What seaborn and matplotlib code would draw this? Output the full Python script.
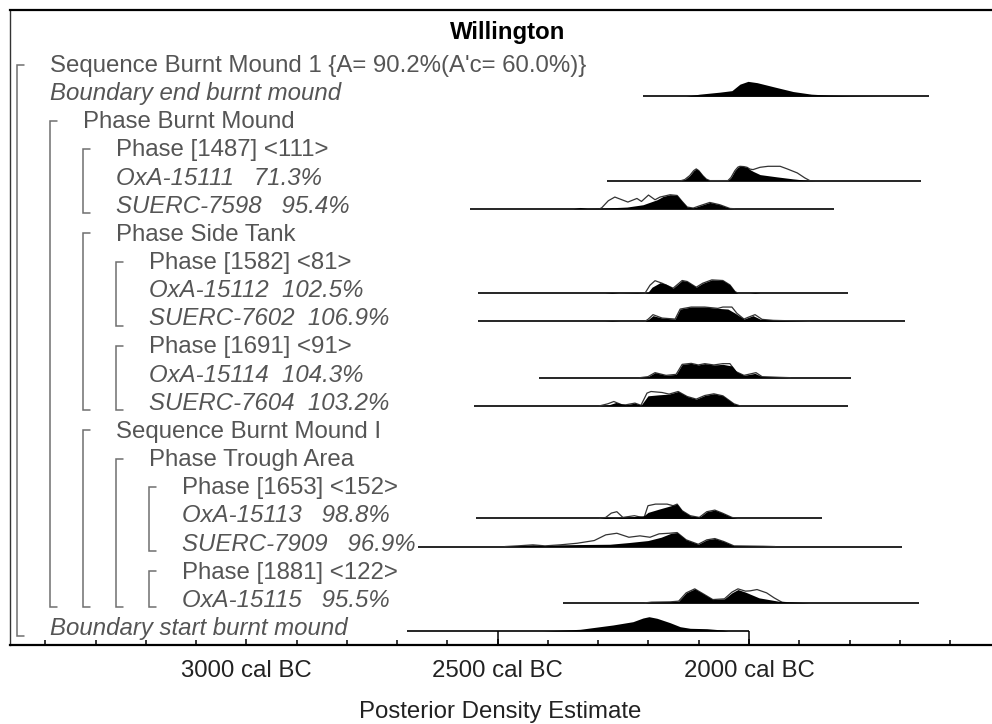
import matplotlib
matplotlib.use("Agg")
import matplotlib.pyplot as plt
import matplotlib.transforms as mtransforms
import seaborn as sns

sns.set_theme(style="white")
plt.rcParams["font.family"] = ["Liberation Sans", "DejaVu Sans"]

# ---------------------------------------------------------------- text
title = "Willington"
x_label = "Posterior Density Estimate"
tick_years = [-3000, -2500, -2000]
tick_labels = ["3000 cal BC", "2500 cal BC", "2000 cal BC"]
minor_years = [-3400, -3300, -3200, -3100, -2900, -2800, -2700, -2600,
               -2400, -2300, -2200, -2100, -1900, -1800, -1700, -1600]

# ---------------------------------------------------------------- model rows
row_labels = [
    "Sequence Burnt Mound 1 {A= 90.2%(A'c= 60.0%)}",
    "Boundary end burnt mound",
    "Phase Burnt Mound",
    "Phase [1487] <111>",
    "OxA-15111   71.3%",
    "SUERC-7598   95.4%",
    "Phase Side Tank",
    "Phase [1582] <81>",
    "OxA-15112  102.5%",
    "SUERC-7602  106.9%",
    "Phase [1691] <91>",
    "OxA-15114  104.3%",
    "SUERC-7604  103.2%",
    "Sequence Burnt Mound I",
    "Phase Trough Area",
    "Phase [1653] <152>",
    "OxA-15113   98.8%",
    "SUERC-7909   96.9%",
    "Phase [1881] <122>",
    "OxA-15115   95.5%",
    "Boundary start burnt mound",
]
row_italic = [False, True, False, False, True, True, False, False, True, True,
              False, True, True, False, False, False, True, True, False, True, True]
row_level = [0, 0, 1, 2, 2, 2, 2, 3, 3, 3, 3, 3, 3, 2, 3, 4, 4, 4, 4, 4, 0]
# (label row, last row, nesting level)
groups = [(0, 20, 0), (2, 19, 1), (3, 5, 2), (6, 12, 2), (7, 9, 3),
          (10, 12, 3), (13, 19, 2), (14, 19, 3), (15, 17, 4), (18, 19, 4)]

# ---------------------------------------------------------------- distributions
# years AD (negative = BC); relative probability heights
be_range = [-2211, -1642]
be_t = [-2125, -2098, -2058, -2034, -2018, -2002, -1984, -1948, -1912, -1876, -1841, -1799, -1739]
be_p = [0, 2, 4, 5.5, 12, 14.8, 13.5, 9, 4.6, 2, 1, 0.4, 0]

ox111_range = [-2283, -1658]
ox111_t = [-2135, -2128, -2118, -2110, -2105, -2100, -2092, -2085, -2078, -2042, -2036,
           -2028, -2022, -2018, -2010, -2004, -1998, -1992, -1978, -1944, -1912, -1885, -1869]
ox111_p = [0, 1, 5, 10, 11.7, 10, 5, 1.5, 0, 0, 3, 10, 13.5, 14.3, 14, 13.3, 11, 9.3, 6,
           3.7, 1.7, 0.3, 0]
ox111_lt = [-2135, -2128, -2118, -2110, -2105, -2100, -2092, -2085, -2078, -2042, -2036,
            -2028, -2022, -2018, -2010, -2004, -1998, -1992, -1978, -1962, -1938, -1924,
            -1904, -1889, -1879]
ox111_lp = [0, 1, 5, 10, 11.7, 10, 5, 1.5, 0, 0, 3, 10, 13.5, 14.3, 14, 13.3, 11.5, 11,
            13.3, 14.3, 14.3, 11.7, 7.7, 2.7, 0]

su598_range = [-2556, -1831]
su598_t = [-2350, -2336, -2322, -2297, -2243, -2211, -2183, -2171, -2157, -2143, -2133,
           -2123, -2111, -2098, -2078, -2058, -2038, -2028]
su598_p = [0, 1.3, 0.3, 0.5, 1.7, 4, 9, 12.3, 14, 13.3, 7.3, 1.7, 0.7, 3, 6.3, 4, 0.3, 0]
su598_lt = [-2297, -2293, -2280, -2267, -2241, -2223, -2214, -2200, -2187, -2177, -2157,
            -2143, -2133, -2123, -2111, -2098, -2078, -2058, -2038, -2028]
su598_lp = [0, 1, 8, 11.7, 6.7, 10.3, 7.3, 13.7, 9, 11.7, 14, 13.3, 7.3, 1.7, 0.7, 3,
            6.3, 4, 0.3, 0]

ox112_range = [-2539, -1802]
ox112_t = [-2287, -2273, -2259, -2223, -2207, -2201, -2193, -2177, -2165, -2151, -2133,
           -2123, -2105, -2092, -2074, -2052, -2038, -2028, -2022, -1998, -1988, -1978]
ox112_p = [0, 0.7, 0, 0.5, 0, 1, 6, 10.5, 9, 5, 12.7, 11.7, 6, 10, 13.3, 12.7, 8.3, 1.7,
           0, 0, 0.7, 0]
ox112_lt = [-2207, -2197, -2187, -2173, -2151, -2133, -2123, -2105, -2092, -2074, -2052,
            -2038, -2028, -2022]
ox112_lp = [0, 8, 12.5, 10, 5, 12.7, 11.7, 6, 10, 13.3, 12.7, 8.3, 1.7, 0]

su602_range = [-2539, -1690]
su602_t = [-2287, -2273, -2257, -2207, -2201, -2191, -2173, -2147, -2137, -2115, -2088,
           -2062, -2042, -2028, -2010, -1992, -1978, -1952, -1897, -1879]
su602_p = [0, 0.5, 0, 0, 1.7, 5.7, 3.3, 2.3, 12.3, 14.3, 14.3, 13, 12.3, 8.3, 2.3, 5.7,
           2.3, 1, 0.3, 0]
su602_lt = [-2207, -2201, -2191, -2173, -2147, -2137, -2115, -2088, -2062, -2052, -2034,
            -2024, -2010, -2002, -1988, -1974, -1952, -1897, -1879]
su602_lp = [0, 2, 6.7, 3.3, 2.3, 12.3, 14.3, 14.3, 13, 14.3, 14.3, 8, 2.3, 4, 6.7, 2, 1,
            0.3, 0]

ox114_range = [-2418, -1797]
ox114_t = [-2217, -2201, -2187, -2165, -2145, -2133, -2115, -2101, -2088, -2070, -2052,
           -2034, -2024, -2010, -1988, -1974, -1938, -1918]
ox114_p = [0, 1, 5, 2.3, 3.3, 13.3, 14.3, 12.7, 14, 12.7, 13.3, 11.7, 5.7, 2.3, 4.3, 1,
           0.3, 0]
ox114_lt = [-2217, -2201, -2187, -2165, -2145, -2133, -2115, -2101, -2088, -2070, -2052,
            -2038, -2026, -2010, -1986, -1974, -1938, -1918]
ox114_lp = [0, 1, 5, 2.3, 3.3, 13.3, 14.3, 12.7, 14, 12.7, 14, 14, 6, 2.3, 5, 1, 0.3, 0]

su604_range = [-2548, -1802]
su604_t = [-2297, -2279, -2265, -2245, -2227, -2215, -2201, -2179, -2159, -2141, -2123,
           -2105, -2088, -2070, -2052, -2030, -2018]
su604_p = [0, 1, 3.3, 1, 2.7, 0.5, 10, 11, 11.7, 14.3, 9.3, 6.7, 10.3, 12, 10, 2, 0]
su604_lt = [-2297, -2281, -2269, -2253, -2245, -2227, -2215, -2203, -2195, -2173, -2159,
            -2141, -2123, -2105, -2088, -2070, -2052, -2030, -2018]
su604_lp = [0, 2, 4.3, 1, 1, 2.7, 0.5, 12.7, 14.3, 13.3, 11.7, 14.3, 9.3, 6.7, 10.3, 12,
            10, 2, 0]

ox113_range = [-2544, -1855]
ox113_t = [-2297, -2285, -2267, -2232, -2209, -2201, -2179, -2155, -2143, -2133, -2117,
           -2099, -2084, -2068, -2053, -2034, -2022]
ox113_p = [0, 1, 0.5, 1.7, 2.7, 6, 9.3, 12.7, 14.3, 7.7, 2.7, 1, 6.7, 8.3, 5.3, 1, 0]
ox113_lt = [-2297, -2285, -2274, -2263, -2251, -2228, -2209, -2201, -2186, -2163, -2151,
            -2143, -2133, -2117, -2099, -2084, -2068, -2053, -2034, -2022]
ox113_lp = [0, 1, 5.3, 6.7, 1, 2.7, 0.5, 12.7, 14.3, 14.3, 12.7, 14.3, 7.7, 2.7, 1, 6.7,
            8.3, 5.3, 1, 0]

su909_range = [-2659, -1696]
su909_t = [-2486, -2460, -2430, -2406, -2376, -2338, -2277, -2239, -2201, -2175, -2155,
           -2143, -2125, -2101, -2084, -2068, -2050, -2030, -1972, -1948]
su909_p = [0, 0.7, 1.7, 0.7, 1.7, 2, 2.3, 4, 6, 9.3, 13.3, 14, 6.7, 2.3, 6.7, 8, 5, 0.7,
           0.3, 0]
su909_lt = [-2486, -2460, -2430, -2406, -2376, -2342, -2308, -2285, -2263, -2239, -2217,
            -2197, -2179, -2159, -2143, -2125, -2101, -2084, -2068, -2050, -2030, -1972,
            -1948]
su909_lp = [0, 0.7, 1.7, 0.7, 1.7, 3.3, 6, 11.7, 13.3, 9.3, 10.7, 9.3, 12.7, 13.3, 14,
            6.7, 2.3, 6.7, 8, 5, 0.7, 0.3, 0]

ox115_range = [-2370, -1662]
ox115_t = [-2207, -2194, -2157, -2140, -2125, -2108, -2092, -2072, -2049, -2034, -2022,
           -2007, -1980, -1942, -1881]
ox115_p = [0, 0.7, 1, 1.7, 10, 14, 9.3, 3.3, 4, 10, 13.3, 10.7, 5, 1.7, 0]
ox115_lt = [-2207, -2194, -2157, -2140, -2125, -2108, -2092, -2072, -2049, -2034, -2022,
            -2007, -1998, -1984, -1965, -1950, -1934, -1918]
ox115_lp = [0, 0.7, 1, 1.7, 10, 14, 9.3, 3.3, 4, 10.7, 14, 11.7, 12, 13.3, 10, 5, 0.5, 0]

bs_range = [-2681, -2000]
bs_t = [-2410, -2336, -2271, -2231, -2211, -2199, -2183, -2157, -2137, -2117, -2084,
        -2052, -2042]
bs_p = [0, 1.7, 6, 9.3, 13, 14.3, 12.7, 8.3, 4.3, 2.7, 2.3, 1, 0]

distributions = {
    1: (be_range, be_t, be_p, None, None),
    4: (ox111_range, ox111_t, ox111_p, ox111_lt, ox111_lp),
    5: (su598_range, su598_t, su598_p, su598_lt, su598_lp),
    8: (ox112_range, ox112_t, ox112_p, ox112_lt, ox112_lp),
    9: (su602_range, su602_t, su602_p, su602_lt, su602_lp),
    11: (ox114_range, ox114_t, ox114_p, ox114_lt, ox114_lp),
    12: (su604_range, su604_t, su604_p, su604_lt, su604_lp),
    16: (ox113_range, ox113_t, ox113_p, ox113_lt, ox113_lp),
    17: (su909_range, su909_t, su909_p, su909_lt, su909_lp),
    19: (ox115_range, ox115_t, ox115_p, ox115_lt, ox115_lp),
    20: (bs_range, bs_t, bs_p, None, None),
}

# ---------------------------------------------------------------- layout (pixels)
W, H = 992, 724
AX_L, AX_R, AX_T, AX_B = 10, 1006, 10, 645
YEAR_PER_PX = 1.99
ROW0, PITCH = 63.5, 28.15
TEXT_X0, INDENT = 50, 33
FS = 17.3
label_color = "#555555"
bracket_color = "#6f6f6f"


def row_y(i):
    return ROW0 + i * PITCH


def fx(px):
    return (px - AX_L) / (AX_R - AX_L)


fig = plt.figure(figsize=(W / 100, H / 100), dpi=100)
ax = fig.add_axes([AX_L / W, 1 - AX_B / H, (AX_R - AX_L) / W, (AX_B - AX_T) / H])
ax.set_xlim(-2000 + (AX_L - 749) * YEAR_PER_PX, -2000 + (AX_R - 749) * YEAR_PER_PX)
ax.set_ylim(AX_B, AX_T)
ax.set_facecolor("white")
ax.grid(False)

for side in ("top", "bottom"):
    ax.spines[side].set_color("black")
    ax.spines[side].set_linewidth(1.6)
ax.spines["left"].set_color("#333333")
ax.spines["left"].set_linewidth(1.0)
ax.spines["right"].set_visible(False)

ax.set_yticks([])
ax.set_xticks(tick_years, labels=tick_labels)
ax.set_xticks(minor_years, minor=True)
ax.tick_params(axis="x", which="both", direction="in", bottom=True, top=False,
               color="black", width=1.1, pad=11, labelsize=FS, labelcolor="#222222")
ax.tick_params(axis="x", which="major", length=4.5)
ax.tick_params(axis="x", which="minor", length=3.6)

blend = mtransforms.blended_transform_factory(ax.transAxes, ax.transData)

# row labels
for i, (txt, it, lev) in enumerate(zip(row_labels, row_italic, row_level)):
    ax.text(fx(TEXT_X0 + INDENT * lev), row_y(i) + 8.5, txt, transform=blend,
            ha="left", va="baseline", fontsize=FS, color=label_color,
            style="italic" if it else "normal", zorder=5)

# group brackets
for first, last, lev in groups:
    bx = TEXT_X0 + INDENT * lev - INDENT
    top, bot = row_y(first) + 1, row_y(last) + 9
    ax.plot([fx(bx + 7), fx(bx), fx(bx), fx(bx + 7)], [top, top, bot, bot],
            transform=blend, color=bracket_color, lw=1.1, solid_joinstyle="miter",
            zorder=5)

# distributions: baseline, likelihood outline, posterior fill
for row, (rng, ft, fp, lt, lp) in distributions.items():
    base = row_y(row) + 4.5
    ax.plot(rng, [base, base], color="black", lw=1.2, solid_capstyle="butt", zorder=2)
    if lt is not None:
        sns.lineplot(x=lt, y=[base - v for v in lp], ax=ax, color="#333333", lw=0.9,
                     estimator=None, sort=False, zorder=3)
    ax.fill_between(ft, base, [base - v for v in fp], color="black", lw=0, zorder=4)

# major ticks joined up to the lowest baseline they pass under
bs_base = row_y(20) + 4.5
ax.vlines([t for t in tick_years if bs_range[0] <= t <= bs_range[1]], bs_base, AX_B,
          color="black", lw=1.1, zorder=2)

fig.text(508 / W, 1 - 38.5 / H, title, ha="center", va="baseline", fontsize=FS,
         fontweight="bold", color="black")
fig.text(500 / W, 1 - 718 / H, x_label, ha="center", va="baseline", fontsize=FS,
         color="#222222")

fig.savefig("out.png", dpi=100, facecolor="white")
